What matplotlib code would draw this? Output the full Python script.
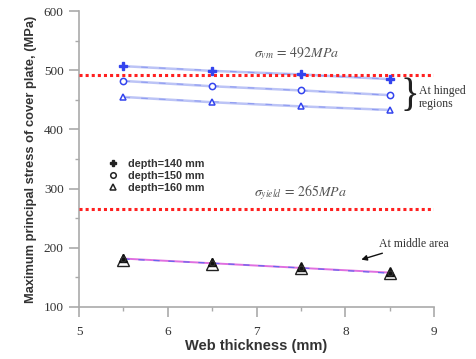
import matplotlib
matplotlib.use("Agg")
import matplotlib.pyplot as plt
import numpy as np

web_thickness = [5.5, 6.5, 7.5, 8.5]
hinged_140 = [507, 499, 493, 485]
hinged_150 = [482, 473, 466, 458]
hinged_160 = [455, 446, 439, 433]
middle_140 = [183, 176, 168, 159]
middle_150 = [181, 174, 166, 157]
middle_160 = [180, 173, 165, 157]
sigma_vm = 492
sigma_yield = 265
legend_labels = ["depth=140 mm", "depth=150 mm", "depth=160 mm"]

plt.rcParams["mathtext.fontset"] = "stix"

fig = plt.figure(figsize=(4.76, 3.59), dpi=100)
ax = fig.add_axes([0.166, 0.145, 0.746, 0.824])

blue = "#3344ee"
lblue = "#bcc4f6"
x = np.array(web_thickness)

# hinged fit lines
for ys in (hinged_140, hinged_150, hinged_160):
    ax.plot(x, ys, color=lblue, lw=1.8, zorder=2)
    p = np.polyfit(x, ys, 1)
    ax.plot(x, np.polyval(p, x), color="#8f9cf2", lw=0.8, ls=(0, (6, 10)), zorder=2)

ax.plot(x, hinged_140, ls="none", marker="P", ms=6, color=blue, mec=blue, zorder=4,
        label=legend_labels[0])
ax.plot(x, hinged_150, ls="none", marker="o", ms=4.5, mfc="white", mec=blue, mew=1.1, zorder=4,
        label=legend_labels[1])
ax.plot(x, hinged_160, ls="none", marker="^", ms=5, mfc="white", mec=blue, mew=1.1, zorder=4,
        label=legend_labels[2])

# middle area
pm = np.polyfit(np.concatenate([x, x, x]), middle_140 + middle_150 + middle_160, 1)
ax.plot(x, np.polyval(pm, x), color="#e070e0", lw=1.4, zorder=3)
ax.plot(x, middle_150, color="#6666ee", lw=0.9, ls=(0, (5, 7)), zorder=3)
ax.plot(x, middle_160, ls="none", marker="^", ms=8, mfc="white", mec="#222222", mew=1.0, zorder=5)
ax.plot(x, middle_140, ls="none", marker="^", ms=6, color="#111111", zorder=6)
ax.plot(x, middle_150, ls="none", marker="o", ms=3.5, mfc="none", mec="#333333", mew=0.8, zorder=6)

# reference lines
ax.axhline(sigma_vm, color="#ff2020", lw=2.2, ls=(0, (1, 1)), zorder=3)
ax.axhline(sigma_yield, color="#ff2020", lw=2.2, ls=(0, (1, 1)), zorder=3)

ax.text(6.97, 522, r"$\sigma_{vm}\,=\,492MPa$", fontsize=10, color="#555555")
ax.text(6.97, 288, r"$\sigma_{yield}\,=\,265MPa$", fontsize=10, color="#555555")

# brace for hinged
ax.text(8.62, 455, "}", fontsize=28, color="#222222", family="Liberation Serif",
        ha="left", va="center")
ax.text(8.83, 454, "At hinged\nregions", fontsize=8.5, color="#333333",
        family="Liberation Serif", ha="left", va="center", linespacing=1.2)

ax.annotate("At middle area", xy=(8.18, 180), xytext=(8.38, 207),
            fontsize=8.5, color="#333333", family="Liberation Serif", ha="left", va="center",
            arrowprops=dict(arrowstyle="-|>", color="#111111", lw=1.0, mutation_scale=8,
                            shrinkA=2, shrinkB=0))

ax.set_xlim(5, 9)
ax.set_ylim(100, 600)
ax.set_xticks([5, 6, 7, 8, 9])
ax.set_xticks([5.5, 6.5, 7.5, 8.5], minor=True)
ax.set_yticks([100, 200, 300, 400, 500, 600])
ax.set_yticks([150, 250, 350, 450, 550], minor=True)

for s in ("top", "right"):
    ax.spines[s].set_visible(False)
for s in ("left", "bottom"):
    ax.spines[s].set_color("#aaaaaa")
    ax.spines[s].set_linewidth(1.2)
ax.tick_params(which="major", direction="out", length=7.5, width=1.2, color="#aaaaaa",
               labelsize=9.5, labelcolor="#333333")
ax.tick_params(which="minor", direction="out", length=3, width=1.0, color="#aaaaaa")
ax.tick_params(axis="y", which="major", pad=3.5)
ax.tick_params(axis="x", which="major", pad=6)
for lab in ax.get_xticklabels() + ax.get_yticklabels():
    lab.set_family("Liberation Serif")

ax.set_xlabel("Web thickness (mm)", fontsize=10.5, fontweight="bold", color="#333333",
              family="Liberation Sans", labelpad=1)
ax.set_ylabel("Maximum principal stress of cover plate, (MPa)", fontsize=9.3,
              fontweight="bold", color="#333333", family="Liberation Sans", labelpad=5)

leg = ax.legend(loc="upper left", bbox_to_anchor=(0.06, 0.515), frameon=False,
                handletextpad=0.7, labelspacing=0.2, borderaxespad=0, handlelength=1.5,
                prop={"family": "Liberation Sans", "weight": "bold", "size": 7.8})
for h in leg.legend_handles:
    h.set_markeredgecolor("#222222")
    h.set_markersize(4)
leg.legend_handles[0].set_markerfacecolor("#222222")
for t in leg.get_texts():
    t.set_color("#333333")

fig.savefig("out.png", dpi=100)
